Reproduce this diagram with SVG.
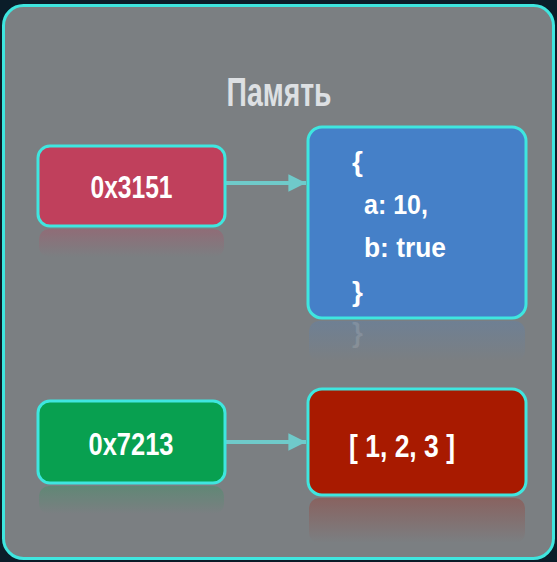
<svg xmlns="http://www.w3.org/2000/svg" width="557" height="562" viewBox="0 0 557 562">
<defs>
<style>
.lbl{font-family:"Liberation Sans Narrow","Liberation Sans",Arial,sans-serif;font-weight:bold;fill:#ffffff}
.box{stroke:#3fe6df;stroke-width:3}
.conn{stroke:#6fcaca;stroke-width:4;fill:none}
</style>
<marker id="ah" viewBox="0 0 10 10" refX="10" refY="5" markerWidth="5" markerHeight="4.4" markerUnits="strokeWidth" orient="auto">
<path d="M0,0 L10,5 L0,10 Z" fill="#6fcaca"/>
</marker>
<linearGradient id="fPink" x1="0" y1="0" x2="0" y2="1"><stop offset="0" stop-color="#c0405c" stop-opacity="0.3"/><stop offset="1" stop-color="#c0405c" stop-opacity="0"/></linearGradient>
<linearGradient id="fBlue" x1="0" y1="0" x2="0" y2="1"><stop offset="0" stop-color="#4a82c8" stop-opacity="0.25"/><stop offset="1" stop-color="#4a82c8" stop-opacity="0"/></linearGradient>
<linearGradient id="fGreen" x1="0" y1="0" x2="0" y2="1"><stop offset="0" stop-color="#10a050" stop-opacity="0.25"/><stop offset="1" stop-color="#10a050" stop-opacity="0"/></linearGradient>
<linearGradient id="fRed" x1="0" y1="0" x2="0" y2="1"><stop offset="0" stop-color="#a82010" stop-opacity="0.3"/><stop offset="1" stop-color="#a82010" stop-opacity="0"/></linearGradient>
</defs>
<rect x="0" y="0" width="557" height="562" fill="#0b1d29"/>
<g id="panel">
<rect x="3.5" y="5.5" width="550" height="553" rx="20" fill="#7b7f82" stroke="#3fe6df" stroke-width="3"/>
<text class="lbl" x="279" y="106" font-size="41" text-anchor="middle" textLength="105" lengthAdjust="spacingAndGlyphs" style="fill:#dde0e3">Память</text>
</g>
<g id="reflections">
<rect x="39" y="229" width="185" height="28" rx="10" fill="url(#fPink)"/>
<rect x="309" y="321" width="216" height="40" rx="10" fill="url(#fBlue)"/>
<text class="lbl" x="352" y="328" font-size="28" transform="translate(0,656) scale(1,-1)" style="fill:#ffffff;fill-opacity:0.12">}</text>
<rect x="39" y="486" width="185" height="28" rx="10" fill="url(#fGreen)"/>
<rect x="309" y="498" width="216" height="45" rx="10" fill="url(#fRed)"/>
</g>
<g id="connectors">
<line class="conn" x1="226" y1="183" x2="306" y2="183" marker-end="url(#ah)"/>
<line class="conn" x1="226" y1="442" x2="306" y2="442" marker-end="url(#ah)"/>
</g>
<g id="ptr1">
<rect class="box" x="38" y="146" width="187" height="80" rx="12" fill="#c0405c"/>
<text class="lbl" x="131.5" y="198" font-size="31" text-anchor="middle" textLength="82" lengthAdjust="spacingAndGlyphs">0x3151</text>
</g>
<g id="obj">
<rect class="box" x="308" y="127" width="218" height="191" rx="14" fill="#4580c8"/>
<text class="lbl" x="352" y="171" font-size="28">{</text>
<text class="lbl" x="364" y="214" font-size="27" textLength="64" lengthAdjust="spacingAndGlyphs">a: 10,</text>
<text class="lbl" x="364" y="257" font-size="27" textLength="82" lengthAdjust="spacingAndGlyphs">b: true</text>
<text class="lbl" x="352" y="301" font-size="28">}</text>
</g>
<g id="ptr2">
<rect class="box" x="38" y="401" width="187" height="82" rx="12" fill="#08a050"/>
<text class="lbl" x="131" y="455" font-size="31" text-anchor="middle" textLength="85" lengthAdjust="spacingAndGlyphs">0x7213</text>
</g>
<g id="arr">
<rect class="box" x="308" y="389" width="218" height="106" rx="14" fill="#a81a00"/>
<text class="lbl" x="349" y="457" font-size="31" textLength="106" lengthAdjust="spacingAndGlyphs">[ 1, 2, 3 ]</text>
</g>
</svg>
